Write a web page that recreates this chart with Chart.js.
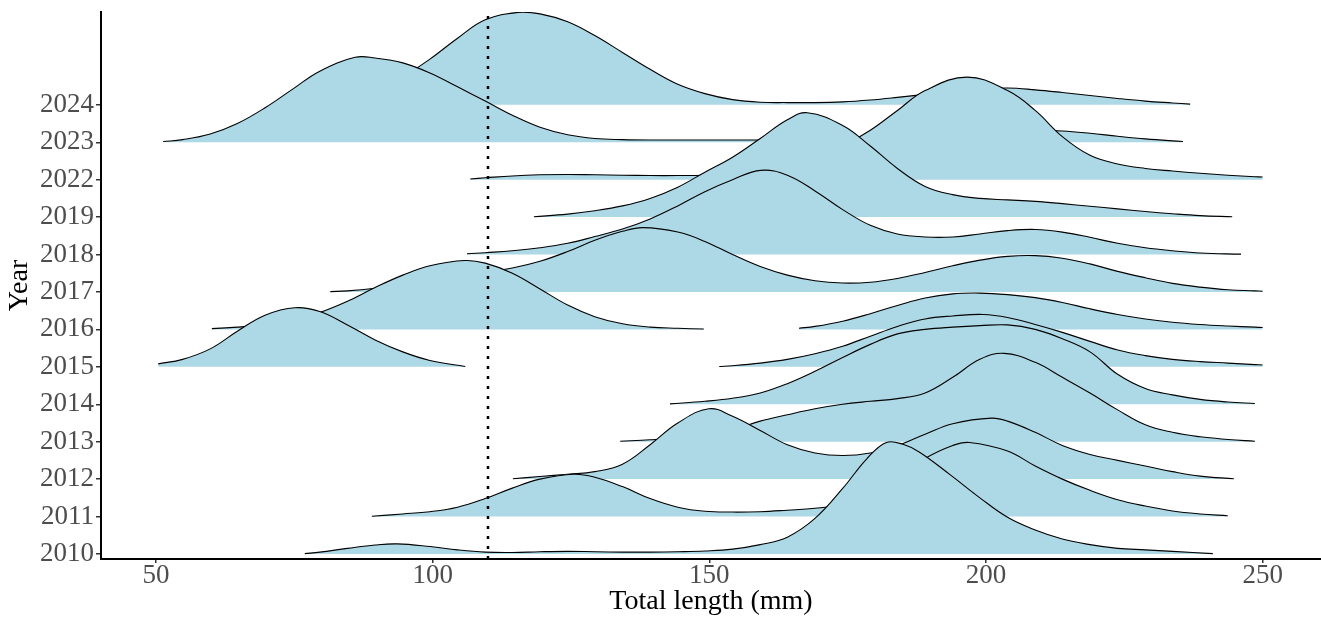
<!DOCTYPE html>
<html>
<head>
<meta charset="utf-8">
<title>Total length by year</title>
<script src="https://cdn.jsdelivr.net/npm/chart.js@4.4.1/dist/chart.umd.min.js"></script>
<style>
  html, body { margin: 0; padding: 0; background: #fff; }
  #wrap { width: 1321px; height: 618px; }
</style>
</head>
<body>
<div id="wrap"><canvas id="ridges"></canvas></div>
<script>
// Years, bottom row first
const years = ['2010', '2011', '2012', '2013', '2014', '2015', '2016', '2017', '2018', '2019', '2022', '2023', '2024'];
const lengthTicks = [50, 100, 150, 200, 250];
const cutoffLength = 110;

// Ridge heights: [total length (mm), height in row units]
// a null height breaks the ridge into two pieces
const ridge2010 = [[76.9, 0.01], [79.6, 0.05], [84.6, 0.15], [89.6, 0.24], [93.6, 0.27], [99.5, 0.2], [104.5, 0.11], [109.5, 0.05], [114.4, 0.04], [119.4, 0.06], [124.4, 0.07], [129.3, 0.06], [134.3, 0.05], [139.3, 0.05], [144.3, 0.06], [149.2, 0.08], [154.2, 0.13], [159.2, 0.25], [164.1, 0.45], [169.1, 0.95], [174.1, 1.75], [178.5, 2.55], [182, 2.98], [185, 2.93], [188, 2.72], [193.5, 2.12], [198.9, 1.5], [203.9, 0.98], [208.9, 0.64], [213.8, 0.4], [218.8, 0.25], [223.8, 0.15], [228.8, 0.11], [233.7, 0.07], [241, 0.01]];
const ridge2011 = [[89, 0.01], [94.6, 0.07], [99.5, 0.13], [104.5, 0.25], [109.5, 0.48], [114.4, 0.76], [119.4, 1.0], [125.5, 1.13], [129.3, 1.05], [134.3, 0.8], [139.3, 0.48], [144.3, 0.25], [149.2, 0.14], [154.2, 0.12], [159.2, 0.13], [164.1, 0.17], [169.1, 0.22], [174.1, 0.32], [179.1, 0.55], [184, 0.98], [189, 1.55], [194, 1.9], [197, 1.98], [203.9, 1.75], [208.9, 1.35], [213.8, 1.0], [218.8, 0.7], [223.8, 0.45], [228.8, 0.28], [233.7, 0.15], [238.7, 0.07], [243.7, 0.02]];
const ridge2012 = [[114.5, 0.01], [119.4, 0.07], [124.4, 0.13], [129.3, 0.2], [134.3, 0.4], [139.3, 0.92], [144.3, 1.5], [149.9, 1.88], [154.2, 1.68], [159.2, 1.3], [164.1, 0.92], [169.1, 0.7], [174.1, 0.63], [179.1, 0.7], [184, 0.9], [189, 1.2], [194, 1.48], [201, 1.63], [203.9, 1.55], [208.9, 1.25], [213.8, 0.9], [218.8, 0.66], [223.8, 0.5], [228.8, 0.35], [233.7, 0.2], [238.7, 0.08], [244.8, 0.01]];
const ridge2013 = [[133.9, 0.01], [139.3, 0.05], [144.3, 0.1], [149.2, 0.18], [154.2, 0.32], [159.2, 0.55], [164.1, 0.72], [169.1, 0.88], [174.1, 1.0], [179.1, 1.08], [184, 1.15], [189, 1.3], [194, 1.72], [198.9, 2.2], [203.3, 2.36], [208.9, 2.12], [213.8, 1.72], [218.8, 1.3], [223.8, 0.85], [228.8, 0.45], [233.7, 0.25], [238.7, 0.13], [243.7, 0.06], [248.6, 0.01]];
const ridge2014 = [[142.9, 0.01], [149.2, 0.08], [154.2, 0.16], [159.2, 0.3], [164.1, 0.55], [169.1, 0.88], [174.1, 1.25], [179.1, 1.6], [184, 1.88], [189, 2.0], [194, 2.06], [198.9, 2.1], [203.9, 2.12], [208.9, 2.0], [213.8, 1.75], [218.8, 1.4], [223.8, 0.8], [228.8, 0.42], [233.7, 0.25], [238.7, 0.13], [243.7, 0.06], [248.6, 0.02]];
const ridge2015 = [[50.4, 0.08], [54.8, 0.2], [59.8, 0.48], [64.7, 0.95], [69.7, 1.38], [75.1, 1.58], [79.6, 1.48], [84.6, 1.12], [89.6, 0.72], [94.6, 0.4], [99.5, 0.17], [105.9, 0.01], [110, null], [151.8, 0.01], [154.2, 0.03], [159.2, 0.1], [164.1, 0.2], [169.1, 0.35], [174.1, 0.55], [179.1, 0.82], [184, 1.08], [189, 1.28], [194, 1.36], [199.5, 1.4], [203.9, 1.32], [208.9, 1.13], [213.8, 0.92], [218.8, 0.68], [223.8, 0.45], [228.8, 0.3], [233.7, 0.2], [238.7, 0.14], [243.7, 0.1], [248.6, 0.06], [250, 0.05]];
const ridge2016 = [[60.1, 0.02], [64.7, 0.06], [69.7, 0.13], [74.7, 0.25], [79.6, 0.45], [84.6, 0.75], [89.6, 1.12], [94.6, 1.45], [99.5, 1.7], [105.8, 1.84], [109.5, 1.77], [114.4, 1.5], [119.4, 1.08], [124.4, 0.65], [129.3, 0.34], [134.3, 0.15], [139.3, 0.06], [144.3, 0.03], [149, 0.01], [155, null], [166.2, 0.03], [169.1, 0.08], [174.1, 0.22], [179.1, 0.42], [184, 0.64], [189, 0.84], [194, 0.95], [198.9, 0.97], [203.9, 0.93], [208.9, 0.85], [213.8, 0.72], [218.8, 0.55], [223.8, 0.4], [228.8, 0.28], [233.7, 0.19], [238.7, 0.13], [243.7, 0.09], [248.6, 0.06], [250, 0.05]];
const ridge2017 = [[81.5, 0.01], [84.6, 0.03], [89.6, 0.1], [94.6, 0.2], [99.5, 0.32], [104.5, 0.43], [109.5, 0.53], [114.4, 0.64], [119.4, 0.82], [124.4, 1.08], [129.3, 1.38], [134.3, 1.62], [138, 1.72], [144.3, 1.6], [149.2, 1.35], [154.2, 1.0], [159.2, 0.68], [164.1, 0.45], [169.1, 0.3], [174.1, 0.24], [179.1, 0.26], [184, 0.36], [189, 0.52], [194, 0.7], [198.9, 0.85], [203.9, 0.95], [208.9, 0.97], [213.8, 0.9], [218.8, 0.75], [223.8, 0.55], [228.8, 0.38], [233.7, 0.23], [238.7, 0.13], [243.7, 0.06], [248.6, 0.03], [250, 0.02]];
const ridge2018 = [[106.2, 0.02], [109.5, 0.05], [114.4, 0.1], [119.4, 0.18], [124.4, 0.3], [129.3, 0.48], [134.3, 0.68], [139.3, 0.95], [144.3, 1.3], [149.2, 1.68], [154.2, 2.0], [159.3, 2.25], [164.1, 2.12], [169.1, 1.7], [174.1, 1.2], [179.1, 0.78], [184, 0.55], [189, 0.47], [194, 0.47], [198.9, 0.55], [203.9, 0.64], [208.9, 0.67], [213.8, 0.6], [218.8, 0.46], [223.8, 0.3], [228.8, 0.18], [233.7, 0.1], [238.7, 0.04], [246.1, 0.01]];
const ridge2019 = [[118.3, 0.01], [124.4, 0.08], [129.3, 0.17], [134.3, 0.3], [139.3, 0.5], [144.3, 0.8], [149.2, 1.2], [154.2, 1.6], [159.2, 2.1], [164.1, 2.6], [167.7, 2.79], [174.1, 2.45], [179.1, 1.9], [184, 1.3], [189, 0.82], [194, 0.6], [198.9, 0.5], [203.9, 0.46], [208.9, 0.42], [213.8, 0.36], [218.8, 0.29], [223.8, 0.22], [228.8, 0.15], [233.7, 0.09], [238.7, 0.04], [244.5, 0.01]];
const ridge2022 = [[106.8, 0.02], [109.5, 0.05], [114.4, 0.1], [119.4, 0.13], [124.4, 0.14], [129.3, 0.13], [134.3, 0.12], [139.3, 0.11], [144.3, 0.11], [149.2, 0.12], [154.2, 0.15], [159.2, 0.22], [164.1, 0.35], [169.1, 0.58], [174.1, 0.9], [179.1, 1.32], [184, 1.85], [189, 2.38], [196.6, 2.74], [203.9, 2.38], [208.9, 1.85], [213.8, 1.15], [218.8, 0.65], [223.8, 0.42], [228.8, 0.3], [233.7, 0.23], [238.7, 0.17], [243.7, 0.12], [248.6, 0.08], [250, 0.07]];
const ridge2023 = [[51.3, 0.02], [54.8, 0.07], [59.8, 0.22], [64.7, 0.5], [69.7, 0.92], [74.7, 1.42], [79.6, 1.9], [86, 2.27], [89.6, 2.25], [94.6, 2.12], [99.5, 1.85], [104.5, 1.48], [109.5, 1.1], [114.4, 0.72], [119.4, 0.4], [124.4, 0.2], [129.3, 0.1], [134.3, 0.07], [139.3, 0.06], [149.2, 0.06], [159.2, 0.06], [164.1, 0.07], [169.1, 0.08], [174.1, 0.1], [179.1, 0.12], [184, 0.16], [189, 0.2], [194, 0.25], [198.9, 0.3], [206.5, 0.33], [213.8, 0.3], [218.8, 0.24], [223.8, 0.16], [228.8, 0.09], [235.6, 0.02]];
const ridge2024 = [[74, 0.02], [79.6, 0.08], [84.6, 0.19], [89.6, 0.4], [94.6, 0.75], [99.5, 1.22], [104.5, 1.78], [109.5, 2.27], [115.5, 2.47], [119.4, 2.43], [124.4, 2.22], [129.3, 1.85], [134.3, 1.4], [139.3, 0.95], [144.3, 0.55], [149.2, 0.3], [154.2, 0.14], [159.2, 0.07], [164.1, 0.06], [169.1, 0.06], [174.1, 0.08], [179.1, 0.13], [184, 0.2], [189, 0.28], [194, 0.36], [198.9, 0.42], [203.9, 0.45], [208.9, 0.4], [213.8, 0.33], [218.8, 0.25], [223.8, 0.17], [228.8, 0.1], [233.7, 0.05], [236.9, 0.02]];

const ridges = [ridge2010, ridge2011, ridge2012, ridge2013, ridge2014, ridge2015, ridge2016,
  ridge2017, ridge2018, ridge2019, ridge2022, ridge2023, ridge2024];

const yMin = -0.134, yMax = 14.48;
const serif = "'Liberation Serif', 'Times New Roman', serif";

// one filled line per year, sitting on its own row
const ridgeSets = ridges.map(function(ridge, i) {
  return {
    label: years[i],
    data: ridge.map(p => ({ x: p[0], y: p[1] === null ? null : i + p[1] })),
    fill: { value: i },
    backgroundColor: '#ADD8E6',
    borderColor: '#000',
    borderWidth: 1.1,
    pointRadius: 0,
    tension: 0.4,
    spanGaps: false
  };
});

// dotted reference line
ridgeSets.push({
  label: 'cutoff',
  data: [{ x: cutoffLength, y: yMin }, { x: cutoffLength, y: yMax }],
  borderColor: '#000',
  borderWidth: 2.5,
  borderDash: [3, 7],
  pointRadius: 0,
  fill: false,
  order: -1
});

new Chart(document.getElementById('ridges'), {
  type: 'line',
  data: { datasets: ridgeSets },
  options: {
    responsive: true,
    maintainAspectRatio: false,
    animation: false,
    layout: { padding: { top: 12, right: 0, bottom: 0, left: 0 } },
    plugins: {
      legend: { display: false },
      tooltip: { enabled: false }
    },
    scales: {
      x: {
        type: 'linear',
        min: 40.06,
        max: 260.55,
        afterBuildTicks: scale => { scale.ticks = lengthTicks.map(v => ({ value: v })); },
        afterFit: scale => { scale.height = 59; scale.paddingLeft = 0; scale.paddingRight = 0; },
        ticks: {
          color: '#4D4D4D',
          padding: -3,
          font: { family: serif, size: 27 },
          callback: v => String(v)
        },
        grid: { drawOnChartArea: false, drawTicks: true, tickLength: 4, color: '#333', lineWidth: 1.5 },
        border: { display: true, color: '#000', width: 2 },
        title: {
          display: true,
          text: 'Total length (mm)',
          color: '#000',
          font: { family: serif, size: 28, lineHeight: 1 },
          padding: { top: 0, bottom: 2 }
        }
      },
      y: {
        type: 'linear',
        min: yMin,
        max: yMax,
        afterBuildTicks: scale => { scale.ticks = years.map((_, i) => ({ value: i })); },
        afterFit: scale => { scale.width = 101; scale.paddingTop = 0; scale.paddingBottom = 0; },
        ticks: {
          color: '#4D4D4D',
          padding: 2,
          font: { family: serif, size: 27 },
          callback: v => years[v] || ''
        },
        grid: { drawOnChartArea: false, drawTicks: true, tickLength: 5, color: '#333', lineWidth: 1.5 },
        border: { display: true, color: '#000', width: 2 },
        title: {
          display: true,
          text: 'Year',
          color: '#000',
          font: { family: serif, size: 28, lineHeight: 1 },
          padding: { top: 6, bottom: 0 }
        }
      }
    }
  }
});
</script>
</body>
</html>
